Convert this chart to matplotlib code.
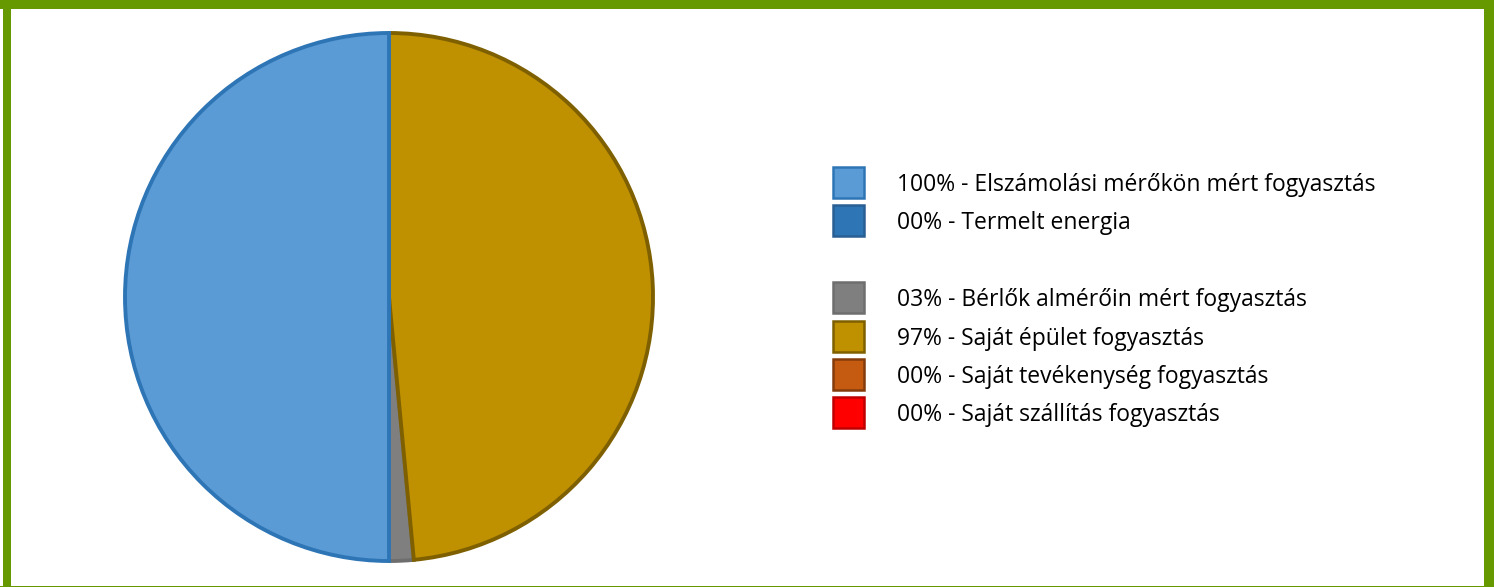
import matplotlib.pyplot as plt
from matplotlib.patches import Rectangle

plt.rcParams['font.family'] = ['Open Sans', 'DejaVu Sans']

# forrás oldal (bal félkör) és felhasználás oldal (jobb félkör), százalékban
forras_cimkek = ['Elszámolási mérőkön mért fogyasztás', 'Termelt energia']
forras_ertekek = [100, 0]
forras_szinek = ['#5B9BD5', '#2E75B6']
forras_keret = ['#2E75B6', '#2A5F94']

fogy_cimkek = ['Bérlők almérőin mért fogyasztás', 'Saját épület fogyasztás',
               'Saját tevékenység fogyasztás', 'Saját szállítás fogyasztás']
fogy_ertekek = [3, 97, 0, 0]
fogy_szinek = ['#7F7F7F', '#BF9000', '#C55A11', '#FF0000']
fogy_keret = ['#6E6E6E', '#7F6000', '#843C0C', '#C00000']

W, H = 1494, 587
fig = plt.figure(figsize=(W / 100, H / 100), dpi=100)

# zöld keret
zold = '#669900'
for x0, y0, w, h in [(3, 0, 8, H), (0, H - 9, W, 9), (W - 10, 0, 10, H), (0, 0, W, 1)]:
    fig.patches.append(Rectangle((x0 / W, y0 / H), w / W, h / H, transform=fig.transFigure,
                                 facecolor=zold, edgecolor='none'))

# kördiagram: mindkét csoport a kör felét adja
cx, cy, r = 389, 297, 264
ax = fig.add_axes([(cx - r) / W, (H - cy - r) / H, 2 * r / W, 2 * r / H])
ertekek = [v / 2 for v in forras_ertekek] + [v / 2 for v in fogy_ertekek]
szinek = forras_szinek + fogy_szinek
keretek = forras_keret + fogy_keret
idx = [i for i, v in enumerate(ertekek) if v > 0]
wedges, _ = ax.pie([ertekek[i] for i in idx], colors=[szinek[i] for i in idx],
                   startangle=90, counterclock=True,
                   wedgeprops={'linewidth': 2.8, 'clip_on': False})
for w, i in zip(wedges, idx):
    w.set_edgecolor(keretek[i])
# a kék szelet kerete kerüljön felülre
wedges[0].set_zorder(3)
ax.set_xlim(-1, 1)
ax.set_ylim(-1, 1)
ax.set_aspect('equal')
ax.axis('off')

# jelmagyarázat
sorok = []
for c, v, f, k in zip(forras_cimkek, forras_ertekek, forras_szinek, forras_keret):
    sorok.append(('%02d%% - %s' % (v, c), f, k))
sorok.append(None)
for c, v, f, k in zip(fogy_cimkek, fogy_ertekek, fogy_szinek, fogy_keret):
    sorok.append(('%02d%% - %s' % (v, c), f, k))

y = 182
for sor in sorok:
    if sor is not None:
        szoveg, f, k = sor
        fig.patches.append(Rectangle((833 / W, (H - y - 16) / H), 31 / W, 31 / H,
                                     transform=fig.transFigure, facecolor=f,
                                     edgecolor=k, linewidth=1.8))
        fig.text(897 / W, (H - y) / H, szoveg, fontsize=16.5, va='center_baseline',
                 ha='left', color='#000000')
    y += 38.4

fig.savefig('out.png', dpi=100)
